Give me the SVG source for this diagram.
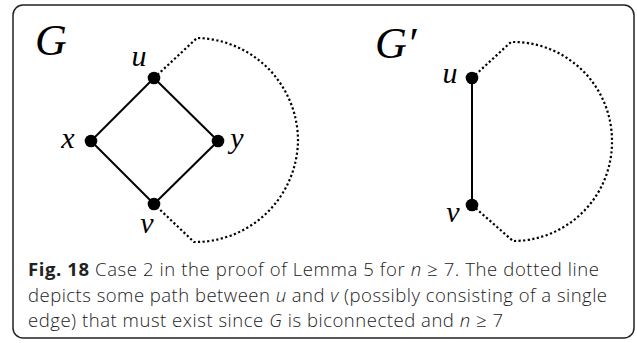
<svg xmlns="http://www.w3.org/2000/svg" width="637" height="343" viewBox="0 0 637 343">
<style>
.frame{fill:#fff;stroke:#222;stroke-width:1.5}
.edge{stroke:#000;stroke-width:2;fill:none}
.dot{stroke:#000;stroke-width:2.2;fill:none;stroke-dasharray:2.2 2.4}
.node{fill:#000}
.math{font-family:"Liberation Serif","DejaVu Serif",serif;font-style:italic;fill:#000}
.lbl{font-size:30px}
.big{font-size:44px}
.cap{font-family:"Open Sans","Noto Sans",sans-serif;font-size:18.5px;font-weight:300;fill:#222}
</style>
<rect class="frame" x="13" y="5" width="621" height="333" rx="10" ry="10"/>
<g id="connectors">
<line class="edge" x1="154" y1="78" x2="91" y2="141"/>
<line class="edge" x1="91" y1="141" x2="154" y2="204"/>
<line class="edge" x1="154" y1="204" x2="218" y2="141"/>
<line class="edge" x1="218" y1="141" x2="154" y2="78"/>
<path class="dot" d="M154 78 L197 38 A103 103 0 0 1 298 141 A103 103 0 0 1 194 242 L154 204"/>
<line class="edge" x1="472" y1="78" x2="472" y2="205"/>
<path class="dot" d="M472 78 L511 42 A99 99 0 0 1 612 141 A99 99 0 0 1 513 241 L472 205"/>
</g>
<g id="label-G"><text class="math big" x="35" y="55">G</text></g>
<g id="node-u"><circle class="node" cx="154" cy="78" r="6.3"/><text class="math lbl" x="139" y="66" text-anchor="middle">u</text></g>
<g id="node-x"><circle class="node" cx="91" cy="141" r="6.3"/><text class="math lbl" x="68" y="148" text-anchor="middle">x</text></g>
<g id="node-y"><circle class="node" cx="218" cy="141" r="6.3"/><text class="math lbl" x="237" y="148" text-anchor="middle">y</text></g>
<g id="node-v"><circle class="node" cx="154" cy="204" r="6.3"/><text class="math lbl" x="147" y="233" text-anchor="middle">v</text></g>
<g id="label-Gp"><text class="math big" x="375" y="58">G′</text></g>
<g id="node-u2"><circle class="node" cx="472" cy="78" r="6.3"/><text class="math lbl" x="450" y="83" text-anchor="middle">u</text></g>
<g id="node-v2"><circle class="node" cx="472" cy="205" r="6.3"/><text class="math lbl" x="453" y="222" text-anchor="middle">v</text></g>
<g id="caption">
<text class="cap" x="28" y="276" textLength="571" lengthAdjust="spacing"><tspan font-weight="bold">Fig. 18</tspan> Case 2 in the proof of Lemma 5 for <tspan font-style="italic">n</tspan> ≥ 7. The dotted line</text>
<text class="cap" x="28" y="302" textLength="579" lengthAdjust="spacing">depicts some path between <tspan font-style="italic">u</tspan> and <tspan font-style="italic">v</tspan> (possibly consisting of a single</text>
<text class="cap" x="28" y="327" textLength="475" lengthAdjust="spacing">edge) that must exist since <tspan font-style="italic">G</tspan> is biconnected and <tspan font-style="italic">n</tspan> ≥ 7</text>
</g>
</svg>
